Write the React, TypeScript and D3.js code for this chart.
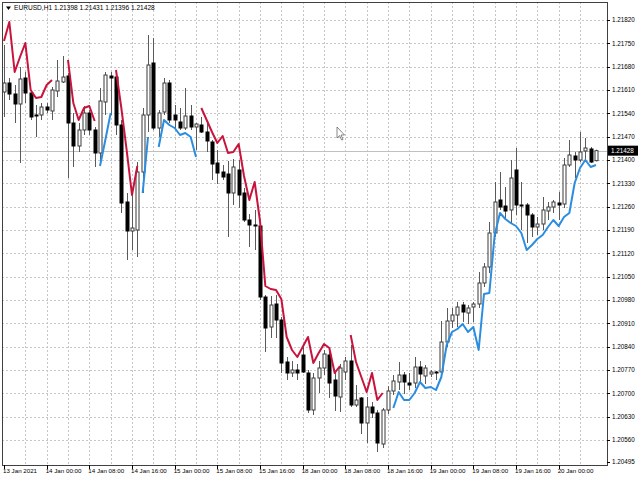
import React from 'react';
import * as d3 from 'd3';

const symbol = 'EURUSD,H1';

const open = [1.21604,1.21631,1.21598,1.21568,1.21646,1.21601,1.21535,1.21535,1.21559,1.21547,
1.21607,1.21634,1.21652,1.21511,1.21442,1.21490,1.21541,1.21490,1.21421,1.21574,
1.21652,1.21649,1.21505,1.21274,1.21187,1.21190,1.21364,1.21535,1.21691,1.21496,
1.21544,1.21631,1.21535,1.21514,1.21496,1.21532,1.21499,1.21505,1.21484,1.21454,
1.21391,1.21364,1.21358,1.21301,1.21370,1.21301,1.21220,1.21205,1.21202,1.20989,
1.20899,1.20968,1.20920,1.20794,1.20761,1.20770,1.20815,1.20761,1.20650,1.20746,
1.20776,1.20815,1.20740,1.20689,1.20764,1.20797,1.20665,1.20686,1.20611,1.20659,
1.20641,1.20548,1.20650,1.20707,1.20734,1.20755,1.20731,1.20731,1.20779,1.20752,
1.20758,1.20764,1.20764,1.20854,1.20917,1.20935,1.20965,1.20941,1.20959,1.20968,
1.21031,1.21079,1.21181,1.21280,1.21262,1.21250,1.21370,1.21265,1.21265,1.21235,
1.21199,1.21208,1.21247,1.21259,1.21271,1.21268,1.21385,1.21412,1.21400,1.21427,
1.21433,1.21398];

const high = [1.21745,1.21646,1.21625,1.21679,1.21664,1.21610,1.21565,1.21571,1.21571,1.21619,
1.21700,1.21712,1.21661,1.21541,1.21511,1.21562,1.21550,1.21499,1.21616,1.21664,
1.21664,1.21655,1.21520,1.21301,1.21301,1.21394,1.21556,1.21775,1.21766,1.21550,
1.21646,1.21640,1.21565,1.21556,1.21616,1.21565,1.21511,1.21529,1.21511,1.21460,
1.21430,1.21385,1.21397,1.21403,1.21400,1.21316,1.21238,1.21250,1.21211,1.20995,
1.20992,1.20995,1.20929,1.20809,1.20797,1.20788,1.20839,1.20770,1.20761,1.20797,
1.20830,1.20824,1.20767,1.20788,1.20809,1.20845,1.20725,1.20689,1.20689,1.20674,
1.20650,1.20656,1.20722,1.20755,1.20794,1.20764,1.20761,1.20809,1.20797,1.20785,
1.20770,1.20767,1.20917,1.20956,1.20956,1.20974,1.20974,1.20965,1.20974,1.21064,
1.21091,1.21214,1.21334,1.21364,1.21319,1.21400,1.21436,1.21334,1.21271,1.21241,
1.21229,1.21289,1.21274,1.21280,1.21304,1.21406,1.21460,1.21424,1.21484,1.21466,
1.21439,1.21431];

const low = [1.21529,1.21580,1.21511,1.21391,1.21571,1.21520,1.21469,1.21520,1.21541,1.21520,
1.21589,1.21631,1.21346,1.21379,1.21424,1.21475,1.21475,1.21379,1.21394,1.21535,
1.21535,1.21475,1.21241,1.21100,1.21130,1.21109,1.21301,1.21484,1.21490,1.21469,
1.21535,1.21511,1.21490,1.21490,1.21490,1.21490,1.21430,1.21481,1.21424,1.21340,
1.21328,1.21340,1.21169,1.21265,1.21256,1.21214,1.21139,1.21130,1.20980,1.20824,
1.20866,1.20866,1.20761,1.20740,1.20749,1.20740,1.20761,1.20641,1.20635,1.20701,
1.20755,1.20686,1.20647,1.20644,1.20740,1.20659,1.20659,1.20578,1.20551,1.20626,
1.20524,1.20536,1.20638,1.20695,1.20710,1.20698,1.20710,1.20716,1.20731,1.20728,
1.20749,1.20740,1.20758,1.20839,1.20896,1.20899,1.20914,1.20908,1.20914,1.20956,
1.21019,1.21061,1.21169,1.21250,1.21220,1.21211,1.21235,1.21190,1.21151,1.21169,
1.21175,1.21190,1.21220,1.21241,1.21220,1.21256,1.21379,1.21346,1.21394,1.21394,
1.21391,1.21396];

const close = [1.21631,1.21598,1.21568,1.21643,1.21601,1.21529,1.21532,1.21559,1.21550,1.21610,
1.21637,1.21649,1.21511,1.21442,1.21490,1.21541,1.21490,1.21421,1.21577,1.21655,
1.21646,1.21505,1.21271,1.21187,1.21196,1.21364,1.21535,1.21685,1.21496,1.21541,
1.21631,1.21520,1.21520,1.21496,1.21532,1.21499,1.21508,1.21484,1.21457,1.21388,
1.21361,1.21349,1.21301,1.21379,1.21295,1.21220,1.21205,1.21202,1.20989,1.20896,
1.20965,1.20920,1.20791,1.20761,1.20770,1.20761,1.20764,1.20650,1.20746,1.20776,
1.20818,1.20731,1.20692,1.20776,1.20797,1.20665,1.20680,1.20611,1.20659,1.20641,
1.20551,1.20650,1.20707,1.20737,1.20755,1.20734,1.20725,1.20779,1.20758,1.20776,
1.20764,1.20761,1.20854,1.20917,1.20935,1.20959,1.20944,1.20956,1.20968,1.21031,
1.21079,1.21181,1.21274,1.21259,1.21247,1.21346,1.21265,1.21262,1.21235,1.21199,
1.21208,1.21250,1.21259,1.21274,1.21265,1.21385,1.21415,1.21400,1.21424,1.21436,
1.21394,1.21428];

// indicator: red segments (down trend) and blue segments (up trend)
const trendDown: (number | null)[] = [
1.21757,1.21814,1.21664,1.21709,1.21751,1.21610,1.21586,1.21589,1.21625,1.21640,
null,null,1.21700,1.21571,1.21520,1.21556,1.21562,1.21517,null,null,
null,1.21670,1.21556,1.21430,1.21295,1.21382,null,null,null,null,
null,null,null,null,null,null,null,1.21556,1.21520,1.21484,
1.21451,1.21472,1.21421,1.21424,1.21448,1.21352,1.21280,1.21334,1.21217,1.21022,
1.21013,1.21010,1.20983,1.20869,1.20830,1.20809,1.20839,1.20869,1.20791,1.20821,
1.20848,1.20836,1.20761,1.20782,null,1.20875,1.20794,1.20749,1.20704,1.20761,
1.20680,1.20701,null,null,null,null,null,null,null,null,
null,null,null,null,null,null,null,null,null,null,
null,null,null,null,null,null,null,null,null,null,
null,null,null,null,null,null,null,null,null,null,
null,null];

const trendUp: (number | null)[] = [
null,null,null,null,null,null,null,null,null,null,
null,null,null,null,null,null,null,null,1.21382,1.21460,
1.21541,null,null,null,null,null,1.21301,1.21469,null,1.21439,
1.21520,1.21505,1.21496,1.21475,1.21481,1.21469,1.21409,null,null,null,
null,null,null,null,null,null,null,null,null,null,
null,null,null,null,null,null,null,null,null,null,
null,null,null,null,null,null,null,null,null,null,
null,null,null,1.20656,1.20704,1.20680,1.20680,1.20701,1.20734,1.20716,
1.20719,1.20710,1.20749,1.20845,1.20884,1.20893,1.20908,1.20884,1.20899,1.20830,
1.20998,1.21001,1.21175,1.21241,1.21223,1.21211,1.21202,1.21181,1.21130,1.21145,
1.21163,1.21175,1.21199,1.21220,1.21202,1.21229,1.21241,1.21331,1.21376,1.21400,
1.21379,1.21385];

const priceTicks = [1.21820,1.21750,1.21680,1.21610,1.21540,1.21470,1.21400,1.21330,1.21260,1.21190,
1.21120,1.21050,1.20980,1.20910,1.20840,1.20770,1.20700,1.20630,1.20560];
const priceBottom = 1.20495;

const timeTickBars = [0,8,16,24,32,40,48,56,64,72,80,88,96,104];
const timeTickLabels = ['13 Jan 2021','14 Jan 00:00','14 Jan 08:00','14 Jan 16:00','15 Jan 00:00','15 Jan 08:00',
'15 Jan 16:00','18 Jan 00:00','18 Jan 08:00','18 Jan 16:00','19 Jan 00:00','19 Jan 08:00','19 Jan 16:00','20 Jan 00:00'];

const FONT = '"Liberation Sans", Arial, sans-serif';

export default function App() {
  const n = close.length;
  const plotL = 2, plotR = 607, plotT = 2, plotB = 465;
  const x = d3.scaleLinear().domain([0, n - 1]).range([4, 596]);
  const y = d3.scaleLinear().domain([priceBottom, priceTicks[0]]).range([461.67, 20]);
  const gridBars = d3.range(4, n, 4);

  const lineGen = d3.line<number | null>()
    .defined((d) => d != null)
    .x((_, i) => x(i))
    .y((d) => y(d as number));

  const last = n - 1;
  const lastPrice = close[last];
  const header = `${symbol}  ${open[last].toFixed(5)} ${high[last].toFixed(5)} ${low[last].toFixed(5)} ${close[last].toFixed(5)}`;

  return (
    <svg width={640} height={480} style={{ position: 'fixed', left: 0, top: 0, background: '#fff' }}>
      <rect x={0} y={0} width={640} height={480} fill="#fff" />
      <defs>
        <clipPath id="plot">
          <rect x={plotL} y={plotT} width={plotR - plotL} height={plotB - plotT} />
        </clipPath>
      </defs>
      {/* grid */}
      <g stroke="#c6c6c6" strokeWidth={1} strokeDasharray="2,2">
        {priceTicks.map((p) => (
          <line key={'h' + p} x1={plotL} x2={plotR} y1={Math.round(y(p)) + 0.5} y2={Math.round(y(p)) + 0.5} />
        ))}
        {gridBars.map((b) => (
          <line key={'v' + b} x1={Math.round(x(b)) + 0.5} x2={Math.round(x(b)) + 0.5} y1={plotT} y2={plotB} />
        ))}
      </g>
      {/* current price line */}
      <line x1={plotL} x2={plotR} y1={Math.round(y(lastPrice)) + 0.5} y2={Math.round(y(lastPrice)) + 0.5} stroke="#c0c0c0" strokeWidth={1} />
      <g clipPath="url(#plot)">
        {close.map((c, i) => {
          const o = open[i];
          const cx = Math.round(x(i)) + 0.5;
          const bull = c >= o;
          const yTop = y(Math.max(o, c));
          const yBot = y(Math.min(o, c));
          const h = Math.max(1, yBot - yTop);
          return (
            <g key={i}>
              <line x1={cx} x2={cx} y1={y(high[i])} y2={y(low[i])} stroke="#5a5a5a" strokeWidth={1} />
              <rect x={cx - 1.5} y={yTop} width={3} height={h}
                fill={bull ? '#fff' : '#000'} stroke={bull ? '#3a3a3a' : '#000'} strokeWidth={1} />
            </g>
          );
        })}
        <path d={lineGen(trendDown) || ''} fill="none" stroke="#c8143c" strokeWidth={2} strokeLinejoin="round" />
        <path d={lineGen(trendUp) || ''} fill="none" stroke="#2b8de0" strokeWidth={2} strokeLinejoin="round" />
      </g>
      {/* frame */}
      <rect x={plotL + 0.5} y={plotT + 0.5} width={plotR - plotL} height={plotB - plotT} fill="none" stroke="#404040" strokeWidth={1} />
      {/* header */}
      <path d="M6,6.5 L11,6.5 L8.5,10 Z" fill="#000" />
      <text x={14} y={10} fontFamily={FONT} fontSize={6.6} fill="#000">{header}</text>
      {/* price axis */}
      <g fontFamily={FONT} fontSize={6.3} fill="#000">
        {[...priceTicks, priceBottom].map((p) => (
          <g key={'p' + p}>
            <line x1={plotR} x2={plotR + 3} y1={Math.round(y(p)) + 0.5} y2={Math.round(y(p)) + 0.5} stroke="#000" />
            <text x={612} y={y(p) + 2.3}>{p.toFixed(5)}</text>
          </g>
        ))}
      </g>
      <rect x={608} y={y(lastPrice) - 5} width={30} height={10} fill="#000" />
      <text x={611} y={y(lastPrice) + 2.3} fontFamily={FONT} fontSize={6.3} fill="#fff">{lastPrice.toFixed(5)}</text>
      {/* time axis */}
      <g fontFamily={FONT} fontSize={6.2} fill="#000">
        {timeTickBars.map((b, k) => (
          <g key={'t' + b}>
            <line x1={Math.round(x(b)) + 0.5} x2={Math.round(x(b)) + 0.5} y1={plotB} y2={plotB + 4} stroke="#000" />
            <text x={x(b) - 1} y={473}>{timeTickLabels[k]}</text>
          </g>
        ))}
      </g>
      {/* mouse cursor */}
      <path d="M337,127 L337,138 L339.6,135.6 L341.6,140 L343,139.4 L341,135 L344.5,135 Z" fill="#fff" stroke="#555" strokeWidth={0.7} />
    </svg>
  );
}
